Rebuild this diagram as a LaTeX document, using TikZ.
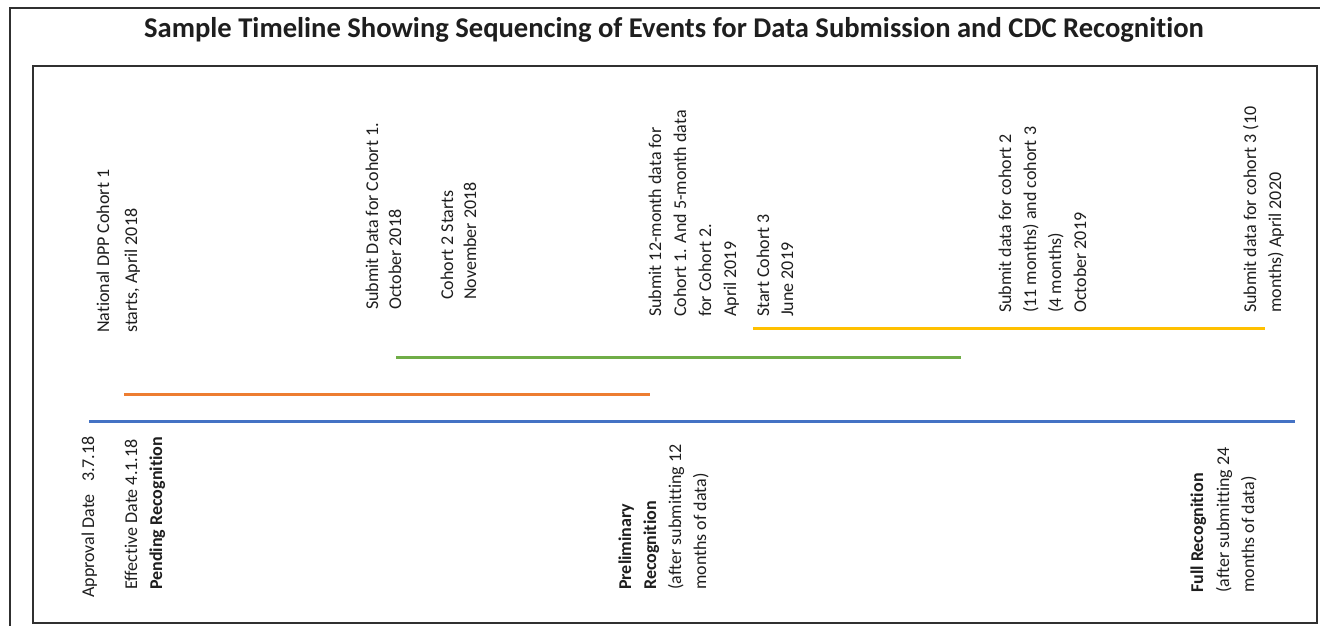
\documentclass[tikz,border=0pt]{standalone}
\usepackage{fontspec}
\setmainfont{Carlito}[Ligatures=NoCommon]
\definecolor{tlblue}{HTML}{4472C4}
\definecolor{tlorange}{HTML}{ED7D31}
\definecolor{tlgreen}{HTML}{70AD47}
\definecolor{tlyellow}{HTML}{FFC000}
\definecolor{ink}{HTML}{1E1E1E}
\definecolor{framec}{HTML}{303030}
\tikzset{
  lbl/.style={rotate=90, anchor=base west, inner sep=0pt, text=ink, font=\fontsize{18}{22}\selectfont},
  lblb/.style={lbl, font=\fontsize{18}{22}\selectfont\bfseries},
  bar/.style={line width=3pt},
  frameline/.style={draw=framec, line width=1.8pt}
}
\begin{document}
\begin{tikzpicture}[x=1pt, y=-1pt]
\useasboundingbox (0,0) rectangle (1320,626);
\fill[white] (0,0) rectangle (1320,626);
% outer frame (open at right and bottom)
\draw[frameline] (10,626) -- (10,8) -- (1320,8);
% title
\node[font=\fontsize{28.6}{31}\selectfont\bfseries, text=ink, inner sep=0pt] (title) at (674,30) {Sample Timeline Showing Sequencing of Events for Data Submission and CDC Recognition};
% inner box
\draw[frameline] (33,66) rectangle (1317,623);
% timeline bars
\coordinate (b0) at (89,421);   \coordinate (b1) at (1295,421);
\coordinate (o0) at (124,394);  \coordinate (o1) at (650,394);
\coordinate (g0) at (396,357);  \coordinate (g1) at (961,357);
\coordinate (y0) at (753,328);  \coordinate (y1) at (1265,328);
\draw[bar, tlblue] (b0) -- (b1);
\draw[bar, tlorange] (o0) -- (o1);
\draw[bar, tlgreen] (g0) -- (g1);
\draw[bar, tlyellow] (y0) -- (y1);
% top labels
\node[lbl] (n1) at (109,333) {National DPP Cohort 1};
\node[lbl] (n2) at (137,333) {starts, April 2018};
\node[lbl] (s1) at (378,310) {Submit Data for Cohort 1.};
\node[lbl] (s2) at (401,310) {October 2018};
\node[lbl] (c1) at (453,300) {Cohort 2 Starts};
\node[lbl] (c2) at (476,300) {November 2018};
\node[lbl] (t1) at (661,317) {Submit 12-month data for};
\node[lbl] (t2) at (686,317) {Cohort 1. And 5-month data};
\node[lbl] (t3) at (711,317) {for Cohort 2.};
\node[lbl] (t4) at (736,317) {April 2019};
\node[lbl] (u1) at (769,317) {Start Cohort 3};
\node[lbl] (u2) at (793,317) {June 2019};
\node[lbl] (v1) at (1011,313) {Submit data for cohort 2};
\node[lbl] (v2) at (1036,313) {(11 months) and cohort 3};
\node[lbl] (v3) at (1061,313) {(4 months)};
\node[lbl] (v4) at (1086,313) {October 2019};
\node[lbl] (w1) at (1256,313) {Submit data for cohort 3 (10};
\node[lbl] (w2) at (1281,313) {months) April 2020};
% bottom labels
\node[lbl] (a1) at (94,598) {Approval Date~~~3.7.18};
\node[lbl] (e1) at (137,590) {Effective Date 4.1.18};
\node[lblb] (e2) at (162,590) {Pending Recognition};
\node[lblb] (p1) at (631,590) {Preliminary};
\node[lblb] (p2) at (656,590) {Recognition};
\node[lbl] (p3) at (681,590) {(after submitting 12};
\node[lbl] (p4) at (706,590) {months of data)};
\node[lblb] (f1) at (1203,593) {Full Recognition};
\node[lbl] (f2) at (1229,593) {(after submitting 24};
\node[lbl] (f3) at (1254,593) {months of data)};
\end{tikzpicture}
\end{document}
